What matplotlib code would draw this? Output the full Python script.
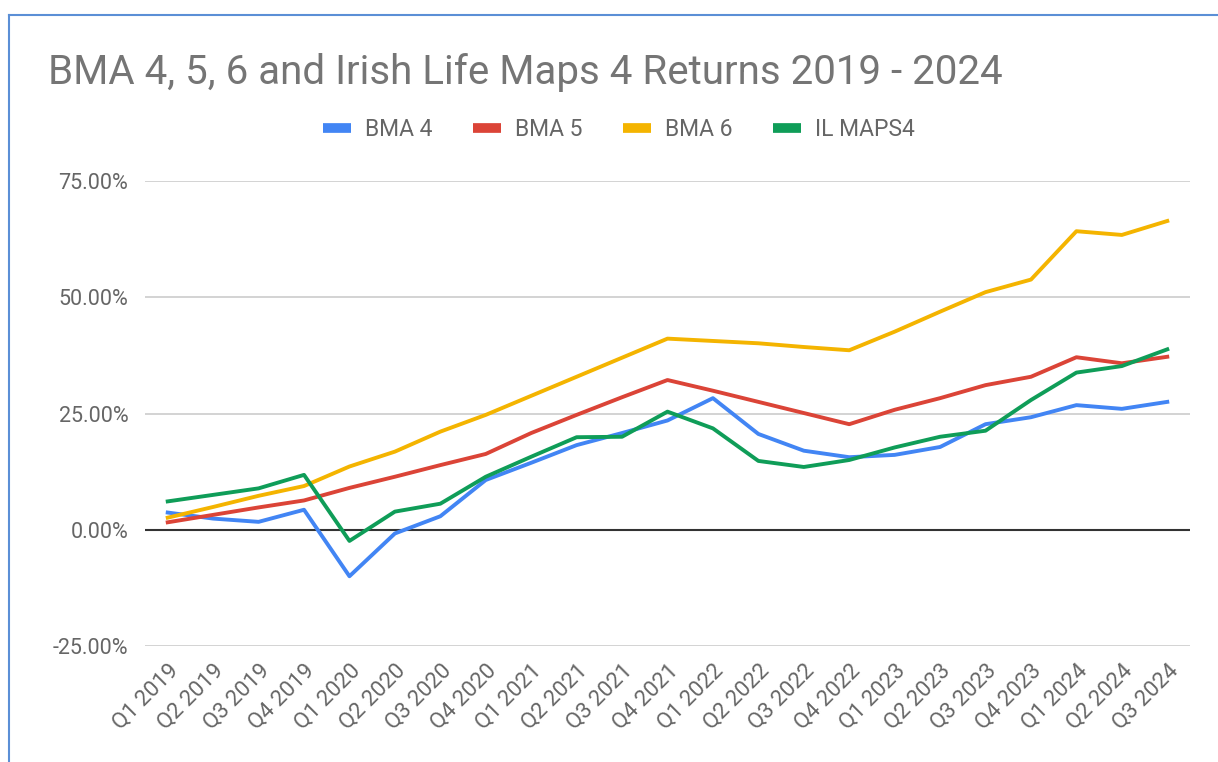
import matplotlib.pyplot as plt
from matplotlib.lines import Line2D
from matplotlib.ticker import FuncFormatter

quarters = ['Q1 2019', 'Q2 2019', 'Q3 2019', 'Q4 2019',
            'Q1 2020', 'Q2 2020', 'Q3 2020', 'Q4 2020',
            'Q1 2021', 'Q2 2021', 'Q3 2021', 'Q4 2021',
            'Q1 2022', 'Q2 2022', 'Q3 2022', 'Q4 2022',
            'Q1 2023', 'Q2 2023', 'Q3 2023', 'Q4 2023',
            'Q1 2024', 'Q2 2024', 'Q3 2024']

bma4 = [3.7, 2.4, 1.7, 4.3, -10.0, -0.8, 2.9, 10.7, 14.4, 18.2, 20.8, 23.5,
        28.3, 20.6, 17.0, 15.6, 16.1, 17.8, 22.7, 24.2, 26.8, 26.0, 27.5]
bma5 = [1.6, 3.2, 4.8, 6.3, 9.0, 11.4, 13.9, 16.3, 20.8, 24.7, 28.5, 32.2,
        29.9, 27.5, 25.1, 22.7, 25.8, 28.3, 31.1, 32.9, 37.1, 35.8, 37.2]
bma6 = [2.6, 4.9, 7.3, 9.4, 13.6, 16.8, 21.1, 24.7, 28.8, 32.9, 37.0, 41.1,
        40.6, 40.1, 39.3, 38.6, 42.6, 46.9, 51.1, 53.8, 64.2, 63.4, 66.4]
ilmaps4 = [6.1, 7.5, 8.9, 11.8, -2.4, 3.9, 5.6, 11.4, 15.7, 19.9, 20.0, 25.4,
           21.8, 14.8, 13.5, 15.0, 17.7, 20.0, 21.3, 27.9, 33.8, 35.2, 38.8]

series = {'BMA 4': (bma4, '#4285F4'),
          'BMA 5': (bma5, '#DB4437'),
          'BMA 6': (bma6, '#F4B400'),
          'IL MAPS4': (ilmaps4, '#0F9D58')}

plt.rcParams['font.family'] = ['Roboto', 'DejaVu Sans']

fig = plt.figure(figsize=(12.18, 7.62), dpi=100)
ax = fig.add_axes([145 / 1218, 1 - 646 / 762, (1190 - 145) / 1218, (646 - 181) / 762])

x = list(range(len(quarters)))
handles = []
for name, (vals, color) in series.items():
    ax.plot(x, vals, color=color, lw=2.8, solid_joinstyle='round', zorder=3)
    handles.append(Line2D([], [], color=color, lw=7, solid_capstyle='butt', label=name))

ax.set_xlim(-0.5, len(quarters) - 0.5)
ax.set_ylim(-25, 75)
ax.set_yticks([-25, 0, 25, 50, 75])
ax.yaxis.set_major_formatter(FuncFormatter(lambda v, p: f'{v:.2f}%'))
ax.grid(axis='y', color='#cccccc', lw=1.2)
ax.axhline(0, color='#333333', lw=1.5, zorder=2)
for s in ax.spines.values():
    s.set_visible(False)
ax.tick_params(length=0, labelsize=15.5, labelcolor='#666666')
ax.tick_params(axis='y', pad=12)
ax.set_xticks(x)
ax.set_xticklabels(quarters, rotation=45, ha='right', rotation_mode='anchor', fontsize=16)
ax.tick_params(axis='x', pad=10)

fig.text(48 / 1218, 1 - 73 / 762, 'BMA 4, 5, 6 and Irish Life Maps 4 Returns 2019 - 2024',
         fontsize=29, color='#757575', va='center', ha='left')

fig.legend(handles=handles, loc='center', bbox_to_anchor=(619 / 1218, 1 - 130 / 762),
           ncol=4, frameon=False, fontsize=16.5, labelcolor='#666666',
           handlelength=1.2, handletextpad=0.6, columnspacing=1.8)

# panel border (top and left edges visible)
fig.add_artist(Line2D([9 / 1218, 9 / 1218], [0, 1 - 15 / 762], color='#5b8fd6', lw=1.5))
fig.add_artist(Line2D([9 / 1218, 1], [1 - 15 / 762, 1 - 15 / 762], color='#5b8fd6', lw=1.5))

fig.savefig('out.png', dpi=100)
